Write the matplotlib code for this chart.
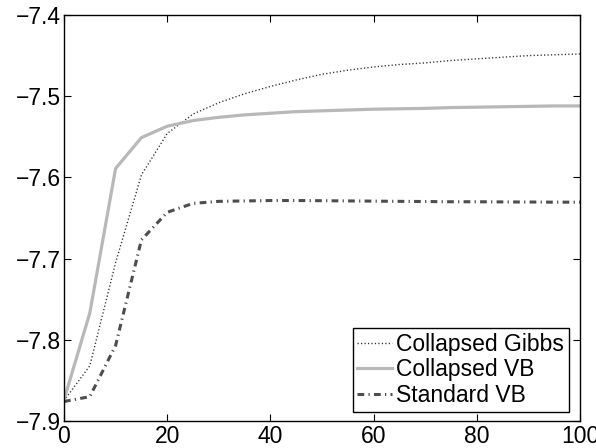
import numpy as np
import matplotlib
matplotlib.use("Agg")
import matplotlib.pyplot as plt

# iterations
iters = np.arange(0, 101, 5)

collapsed_gibbs = [-7.875, -7.832, -7.705, -7.597, -7.546, -7.522, -7.508, -7.497,
                   -7.488, -7.480, -7.473, -7.468, -7.464, -7.461, -7.459, -7.456,
                   -7.454, -7.452, -7.450, -7.449, -7.448]
collapsed_vb = [-7.874, -7.767, -7.589, -7.551, -7.537, -7.530, -7.526, -7.523,
                -7.521, -7.519, -7.518, -7.517, -7.516, -7.5155, -7.515, -7.514,
                -7.5135, -7.513, -7.5125, -7.512, -7.512]
standard_vb = [-7.876, -7.870, -7.807, -7.677, -7.643, -7.632, -7.6295, -7.629,
               -7.6285, -7.6285, -7.6287, -7.629, -7.6292, -7.6295, -7.6297, -7.630,
               -7.630, -7.6302, -7.6303, -7.6305, -7.6305]

labels = ["Collapsed Gibbs", "Collapsed VB", "Standard VB"]
xticks = [0, 20, 40, 60, 80, 100]
yticks = [-7.9, -7.8, -7.7, -7.6, -7.5, -7.4]

fs = 16.5
plt.rcParams['font.family'] = ['Liberation Sans', 'DejaVu Sans']
plt.rcParams['font.size'] = fs
plt.rcParams['xtick.direction'] = 'in'
plt.rcParams['ytick.direction'] = 'in'

fig = plt.figure(figsize=(5.96, 4.48), dpi=100)
ax = fig.add_axes([64/596, 27/448, 516/596, 406/448])

ax.plot(iters, collapsed_gibbs, color='0.2', lw=1.0, ls=(0, (0.9, 1.6)), label=labels[0])
ax.plot(iters, collapsed_vb, color='0.72', lw=2.3, ls='-', label=labels[1])
ax.plot(iters, standard_vb, color='0.3', lw=2.2, ls=(0, (2.2, 1.4, 0.4, 1.4)), label=labels[2])

ax.set_xlim(0, 100)
ax.set_ylim(-7.9, -7.4)
ax.set_xticks(xticks)
ax.set_yticks(yticks)
ax.set_yticklabels(["\u22127.9", "\u22127.8", "\u22127.7", "\u22127.6", "\u22127.5", "\u22127.4"])
ax.tick_params(top=True, right=True, length=5, width=0.8, pad=2)
ax.tick_params(axis='x', pad=3)
for s in ax.spines.values():
    s.set_linewidth(1.0)

leg = ax.legend(loc='lower right', bbox_to_anchor=(0.978, 0.023), borderaxespad=0,
                fancybox=False, edgecolor='black', framealpha=1, fontsize=fs,
                handlelength=1.5, handletextpad=0.2, borderpad=0.2, labelspacing=0.12)
leg.get_frame().set_linewidth(1.0)

fig.savefig("out.png", dpi=100)
